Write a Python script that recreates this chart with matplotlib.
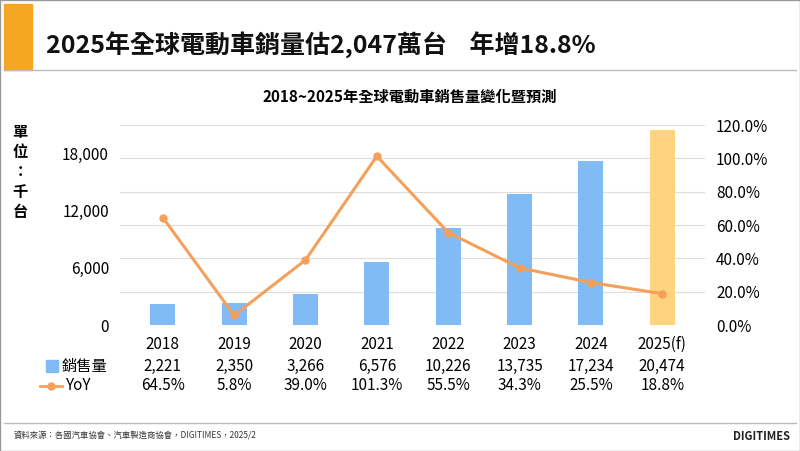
import matplotlib.pyplot as plt
import numpy as np

plt.rcParams['font.family'] = ['Noto Sans CJK TC', 'DejaVu Sans']

years = ['2018', '2019', '2020', '2021', '2022', '2023', '2024', '2025(f)']
sales = [2221, 2350, 3266, 6576, 10226, 13735, 17234, 20474]
yoy = [64.5, 5.8, 39.0, 101.3, 55.5, 34.3, 25.5, 18.8]

W, H = 800, 451
fig = plt.figure(figsize=(W / 100, H / 100), dpi=100)

def fx(x):
    return x / W

def fy(y):
    return 1 - y / H

# frame and banner
fig.patches.append(plt.Rectangle((0, 0), 1, 1, transform=fig.transFigure, fill=False, ec='#999999', lw=1))
fig.patches.append(plt.Rectangle((fx(4), fy(70)), fx(28), 66 / H, transform=fig.transFigure, color='#F5A623'))
fig.add_artist(plt.Line2D([fx(4), fx(796)], [fy(70), fy(70)], color='#BBBBBB', lw=1))
fig.add_artist(plt.Line2D([fx(4), fx(796)], [fy(423), fy(423)], color='#BBBBBB', lw=1))
fig.text(fx(46), fy(45), '2025年全球電動車銷量估2,047萬台    年增18.8%', fontsize=18, fontweight='bold', va='center', color='#111111')
fig.text(fx(410), fy(97), '2018~2025年全球電動車銷售量變化暨預測', fontsize=11, fontweight='bold', ha='center', va='center')
fig.text(fx(14), fy(436), '資料來源：各國汽車協會、汽車製造商協會，DIGITIMES，2025/2', fontsize=6, va='center', color='#333333')
fig.text(fx(790), fy(437), 'DIGITIMES', fontsize=8, fontweight='bold', ha='right', va='center', color='#222222')
for i, ch in enumerate('單位：千台'):
    fig.text(fx(20), fy(132 + i * 20), ch, fontsize=11, fontweight='bold', ha='center', va='center')

ax = fig.add_axes([fx(120), fy(325), fx(585), 200 / H])
x = np.arange(len(years))
colors = ['#80BBF5'] * 7 + ['#FFD37F']
ax.bar(x, sales, width=0.35, color=colors, zorder=2)
ax.set_ylim(0, 21000)
ax.set_xlim(-0.6, 7.6)
ax.set_yticks([0, 6000, 12000, 18000])
ax.set_yticklabels(['0', '6,000', '12,000', '18,000'], fontsize=11)
ax.set_yticks(np.arange(0, 21001, 3500), minor=True)
ax.grid(axis='y', which='minor', color='#DDDDDD', lw=0.8, zorder=0)
ax.tick_params(which='minor', length=0)
ax.set_xticks(x)
ax.set_xticklabels(years, fontsize=11)
ax.tick_params(length=0, pad=8)
for s in ax.spines.values():
    s.set_visible(False)

ax2 = ax.twinx()
ax2.plot(x, yoy, color='#F5A05A', lw=2.2, marker='o', ms=5, zorder=3)
ax2.set_ylim(0, 120)
ax2.set_yticks(range(0, 121, 20))
ax2.set_yticklabels([f'{v:.1f}%' for v in range(0, 121, 20)], fontsize=11)
ax2.tick_params(length=0, pad=8)
for s in ax2.spines.values():
    s.set_visible(False)

# data table
for i in range(len(years)):
    xp = ax.transData.transform((i, 0))[0] / fig.dpi / fig.get_figwidth()
    fig.text(xp, fy(366), f'{sales[i]:,}', fontsize=11, ha='center', va='center')
    fig.text(xp, fy(386), f'{yoy[i]:.1f}%', fontsize=11, ha='center', va='center')
fig.patches.append(plt.Rectangle((fx(46), fy(372)), fx(12), 12 / H, transform=fig.transFigure, color='#80BBF5'))
fig.text(fx(62), fy(366), '銷售量', fontsize=11, va='center')
fig.add_artist(plt.Line2D([fx(40), fx(62)], [fy(386), fy(386)], color='#F5A05A', lw=2, transform=fig.transFigure))
fig.add_artist(plt.Line2D([fx(51)], [fy(386)], color='#F5A05A', marker='o', ms=5, transform=fig.transFigure))
fig.text(fx(66), fy(386), 'YoY', fontsize=11, va='center')

fig.savefig('out.png', dpi=100)
